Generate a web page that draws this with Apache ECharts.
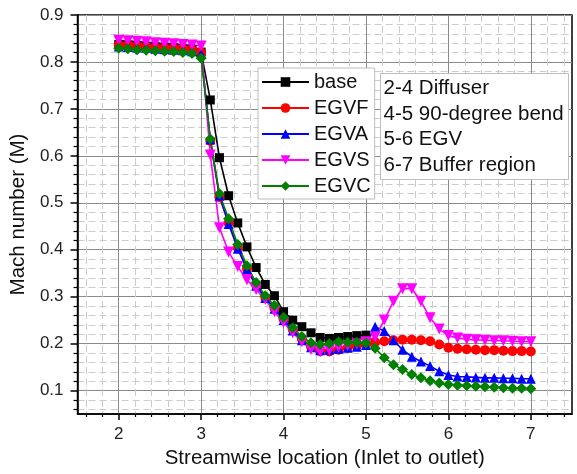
<!DOCTYPE html>
<html>
<head>
<meta charset="utf-8">
<script src="https://cdn.jsdelivr.net/npm/echarts@6/dist/echarts.min.js"></script>
<style>html,body{margin:0;padding:0;background:#fff}#c{width:577px;height:474px}</style>
</head>
<body>
<div id="c"></div>
<script>
// ---- data ----
var xLoc = [2.000, 2.111, 2.222, 2.333, 2.444, 2.556, 2.667, 2.778, 2.889, 3.000,
            3.111, 3.222, 3.333, 3.444, 3.556, 3.667, 3.778, 3.889, 4.000, 4.111,
            4.222, 4.333, 4.444, 4.556, 4.667, 4.778, 4.889, 5.000, 5.111, 5.222,
            5.333, 5.444, 5.556, 5.667, 5.778, 5.889, 6.000, 6.111, 6.222, 6.333,
            6.444, 6.556, 6.667, 6.778, 6.889, 7.000];
var base = [0.837, 0.836, 0.835, 0.833, 0.832, 0.831, 0.830, 0.828, 0.827, 0.821,
            0.719, 0.596, 0.515, 0.457, 0.406, 0.362, 0.326, 0.302, 0.268, 0.250,
            0.236, 0.223, 0.213, 0.211, 0.213, 0.215, 0.217, 0.218];
var egvf = [0.836, 0.835, 0.834, 0.833, 0.831, 0.830, 0.829, 0.828, 0.826, 0.820,
            0.632, 0.512, 0.457, 0.404, 0.360, 0.325, 0.298, 0.276, 0.252, 0.230,
            0.210, 0.194, 0.184, 0.183, 0.187, 0.191, 0.195, 0.199, 0.203, 0.205,
            0.207, 0.208, 0.208, 0.207, 0.205, 0.198, 0.191, 0.189, 0.188, 0.187,
            0.186, 0.186, 0.185, 0.184, 0.184, 0.183];
var egva = [0.833, 0.832, 0.831, 0.830, 0.828, 0.827, 0.826, 0.825, 0.823, 0.817,
            0.635, 0.515, 0.455, 0.402, 0.358, 0.323, 0.297, 0.274, 0.250, 0.228,
            0.207, 0.192, 0.186, 0.187, 0.189, 0.191, 0.193, 0.197, 0.236, 0.227,
            0.207, 0.187, 0.172, 0.162, 0.152, 0.141, 0.133, 0.130, 0.129, 0.128,
            0.127, 0.127, 0.126, 0.126, 0.125, 0.125];
var egvs = [0.846, 0.845, 0.844, 0.843, 0.841, 0.840, 0.839, 0.837, 0.836, 0.834,
            0.602, 0.447, 0.395, 0.364, 0.336, 0.315, 0.294, 0.268, 0.245, 0.223,
            0.204, 0.188, 0.182, 0.186, 0.192, 0.196, 0.199, 0.204, 0.214, 0.250,
            0.290, 0.317, 0.317, 0.290, 0.255, 0.231, 0.217, 0.212, 0.209, 0.208,
            0.207, 0.206, 0.206, 0.205, 0.204, 0.204];
var egvc = [0.829, 0.828, 0.826, 0.825, 0.824, 0.823, 0.822, 0.820, 0.818, 0.808,
            0.636, 0.519, 0.466, 0.411, 0.366, 0.330, 0.302, 0.281, 0.256, 0.234,
            0.215, 0.202, 0.198, 0.200, 0.204, 0.203, 0.203, 0.201, 0.190, 0.170,
            0.155, 0.145, 0.134, 0.127, 0.121, 0.116, 0.113, 0.111, 0.110, 0.109,
            0.108, 0.107, 0.106, 0.105, 0.105, 0.104];
var seriesNames = ['base', 'EGVF', 'EGVA', 'EGVS', 'EGVC'];
var xTickLabels = [2, 3, 4, 5, 6, 7];
var yTickLabels = [0.1, 0.2, 0.3, 0.4, 0.5, 0.6, 0.7, 0.8, 0.9];
var noteLines = ['2-4 Diffuser', '4-5 90-degree bend', '5-6 EGV', '6-7 Buffer region'];
var xTitle = 'Streamwise location (Inlet to outlet)';
var yTitle = 'Mach number (M)';

// ---- styling / construction ----
var FONT = '"Liberation Sans", Arial, sans-serif';
function pairs(ys) { return ys.map(function (y, i) { return [xLoc[i], y]; }); }
function minorList(lo, hi, step, majorStep) {
  var out = [];
  for (var v = lo; v <= hi + 1e-9; v += step) {
    var r = Math.round(v * 1000) / 1000;
    if (Math.abs(r / majorStep - Math.round(r / majorStep)) > 1e-6) out.push(r);
  }
  return out;
}
var xMinor = minorList(1.6, 7.4, 0.2, 1);
var yMinor = minorList(0.06, 0.9, 0.02, 0.1);

var colors = ['#000000', '#ff0000', '#0000ff', '#ff00ff', '#008000'];
var symbols = ['rect', 'circle', 'triangle', 'triangle', 'diamond'];
var sizes = [9, 10, 10, 11, 11];
var rotates = [0, 0, 0, 180, 0];
var datasets = [base, egvf, egva, egvs, egvc];

var series = datasets.map(function (d, i) {
  return {
    name: seriesNames[i], type: 'line', xAxisIndex: 0, yAxisIndex: 0,
    data: pairs(d), symbol: symbols[i], symbolSize: sizes[i], symbolRotate: rotates[i],
    showAllSymbol: true,
    itemStyle: { color: colors[i] }, lineStyle: { color: colors[i], width: 1.6 },
    emphasis: { disabled: true }
  };
});

var chart = echarts.init(document.getElementById('c'), null, { renderer: 'canvas' });
chart.setOption({
  animation: false,
  backgroundColor: '#fff',
  grid: { left: 75, right: 5, top: 15, bottom: 57, show: true, borderColor: '#000', borderWidth: 1.5, backgroundColor: 'transparent' },
  legend: {
    data: seriesNames, orient: 'vertical', left: 258, top: 68,
    padding: [4, 4, 3, 3], itemGap: 6, itemWidth: 47, itemHeight: 12,
    backgroundColor: '#fff', borderColor: '#bdbdbd', borderWidth: 1,
    textStyle: { fontFamily: FONT, fontSize: 20, color: '#111', lineHeight: 20 },
    selectedMode: false
  },
  xAxis: [{
    type: 'value', min: 1.5, max: 7.5, interval: 0.1, position: 'bottom',
    name: xTitle, nameLocation: 'middle', nameGap: 34,
    nameTextStyle: { fontFamily: FONT, fontSize: 20.5, color: '#111' },
    axisLine: { show: true, onZero: false, lineStyle: { color: '#000', width: 1.5 } },
    axisTick: { show: true, customValues: xTickLabels, length: 6, inside: false, lineStyle: { color: '#000', width: 1.5 } },
    axisLabel: { customValues: xTickLabels, margin: 12, fontFamily: FONT, fontSize: 17, color: '#222',
      formatter: function (v) { return String(Math.round(v)); } },
    splitLine: { show: true, lineStyle: { color: '#8a8a8a', width: 1 } }
  }, {
    type: 'value', min: 1.5, max: 7.5, interval: 0.1, position: 'bottom',
    axisLine: { show: false },
    axisTick: { show: true, customValues: xMinor, length: 3, lineStyle: { color: '#000', width: 1.2 } },
    axisLabel: { show: false },
    splitLine: { show: true, lineStyle: { color: '#cccccc', width: 1, type: [7, 4] } }
  }],
  yAxis: [{
    type: 'value', min: 0.05, max: 0.9, interval: 0.01, position: 'left',
    name: yTitle, nameLocation: 'middle', nameGap: 43, nameRotate: 90,
    nameTextStyle: { fontFamily: FONT, fontSize: 20.5, color: '#111' },
    axisLine: { show: true, onZero: false, lineStyle: { color: '#000', width: 1.5 } },
    axisTick: { show: true, customValues: yTickLabels, length: 7, lineStyle: { color: '#000', width: 1.5 } },
    axisLabel: { customValues: yTickLabels, margin: 14, fontFamily: FONT, fontSize: 17, color: '#222',
      formatter: function (v) { return v.toFixed(1); } },
    splitLine: { show: true, lineStyle: { color: '#8a8a8a', width: 1 } }
  }, {
    type: 'value', min: 0.05, max: 0.9, interval: 0.01, position: 'left',
    axisLine: { show: false },
    axisTick: { show: true, customValues: yMinor, length: 4, lineStyle: { color: '#000', width: 1.2 } },
    axisLabel: { show: false },
    splitLine: { show: true, lineStyle: { color: '#cccccc', width: 1, type: [7, 4] } }
  }],
  graphic: [{
    type: 'group', left: 380, top: 73, z: 100, zlevel: 1,
    children: [
      { type: 'rect', z: 100, zlevel: 1, shape: { x: 0, y: 0, width: 188, height: 106 }, style: { fill: '#fff', stroke: '#bdbdbd', lineWidth: 1 } },
      { type: 'text', z: 101, zlevel: 1, x: 3, y: 2, style: { text: noteLines.join('\n'), font: '20.5px ' + FONT, fill: '#111', lineHeight: 25.7 } }
    ]
  }],
  series: series
});
</script>
</body>
</html>
